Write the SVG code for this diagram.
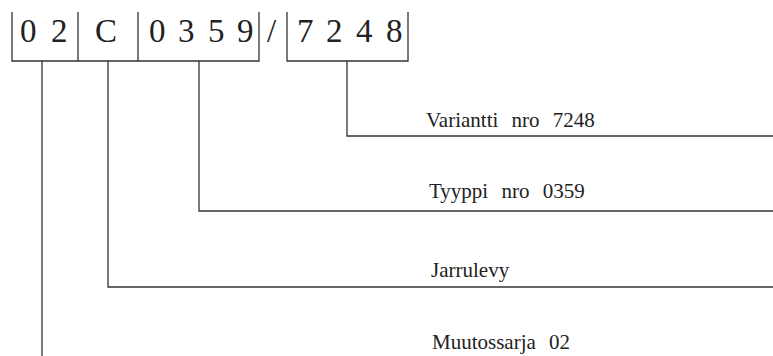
<svg xmlns="http://www.w3.org/2000/svg" width="773" height="356" viewBox="0 0 773 356">
<style>
.ln{stroke:#333;stroke-width:1.3;fill:none}
.big{font-family:"Liberation Serif",serif;font-size:33px;fill:#222}
.lbl{font-family:"Liberation Serif",serif;font-size:21px;fill:#222;word-spacing:8px}
</style>
<rect width="773" height="356" fill="#fff"/>
<g id="code">
<path class="ln" d="M12,12V61H259V12M78,12V61M138,12V61M287,12V61H408V12"/>
<text class="big" x="20" y="42">0</text>
<text class="big" x="51" y="42">2</text>
<text class="big" x="95" y="42">C</text>
<text class="big" x="149" y="42">0</text>
<text class="big" x="178" y="42">3</text>
<text class="big" x="208" y="42">5</text>
<text class="big" x="237" y="42">9</text>
<text class="big" x="267" y="42">/</text>
<text class="big" x="297" y="42">7</text>
<text class="big" x="326" y="42">2</text>
<text class="big" x="356" y="42">4</text>
<text class="big" x="386" y="42">8</text>
</g>
<g id="connectors">
<path class="ln" d="M347,61V136H773"/>
<path class="ln" d="M199,61V211H773"/>
<path class="ln" d="M108,61V287H773"/>
<path class="ln" d="M42,61V356"/>
</g>
<g id="label-variantti"><text class="lbl" x="426" y="127">Variantti nro 7248</text></g>
<g id="label-tyyppi"><text class="lbl" x="429" y="198">Tyyppi nro 0359</text></g>
<g id="label-jarrulevy"><text class="lbl" x="431" y="277">Jarrulevy</text></g>
<g id="label-muutossarja"><text class="lbl" x="432" y="349">Muutossarja 02</text></g>
</svg>
